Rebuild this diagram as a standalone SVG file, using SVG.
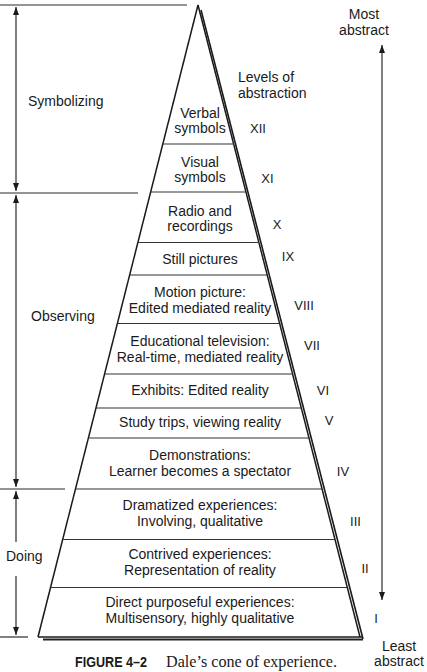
<svg xmlns="http://www.w3.org/2000/svg" width="427" height="672" viewBox="0 0 427 672">
<style>
  .t{font-family:"Liberation Sans",Arial,sans-serif;font-size:14px;fill:#1a1a1a}
  .c{text-anchor:middle}
  .n{font-family:"Liberation Sans",Arial,sans-serif;font-size:13px;fill:#1a1a1a;text-anchor:middle}
  .edge{stroke:#1a1a1a;stroke-width:1.5;fill:none}
  .div{stroke:#333;stroke-width:1.2}
  .bl{stroke:#2a2a2a;stroke-width:1.2}
  .ar{stroke:#2a2a2a;stroke-width:1.2;fill:none}
</style>
<defs>
  <marker id="ah" viewBox="0 0 8 6" refX="8" refY="3" markerWidth="8" markerHeight="6" markerUnits="userSpaceOnUse" orient="auto-start-reverse">
    <path d="M0,0 L8,3 L0,6 z" fill="#1a1a1a"/>
  </marker>
</defs>
<rect width="427" height="672" fill="#fff"/>

<g id="cone">
  <line class="edge" x1="198" y1="5" x2="38" y2="637"/>
  <line class="edge" x1="198" y1="5" x2="360" y2="637"/>
  <line x1="201" y1="10" x2="363" y2="639" stroke="#1a1a1a" stroke-width="1.6"/>
  <line class="edge" x1="38" y1="637" x2="362" y2="637"/>
  <line x1="43" y1="639.5" x2="363" y2="639.5" stroke="#222" stroke-width="1.8"/>
</g>

<g id="dividers">
  <line class="div" x1="162.8" y1="144" x2="233.6" y2="144"/>
  <line class="div" x1="150.7" y1="192" x2="245.9" y2="192"/>
  <line class="div" x1="137.9" y1="242.5" x2="258.9" y2="242.5"/>
  <line class="div" x1="129.6" y1="275" x2="267.2" y2="275"/>
  <line class="div" x1="117.4" y1="323.5" x2="279.6" y2="323.5"/>
  <line class="div" x1="104.6" y1="374" x2="292.6" y2="374"/>
  <line class="div" x1="96" y1="408" x2="301.3" y2="408"/>
  <line class="div" x1="88.4" y1="438" x2="309" y2="438"/>
  <line class="div" x1="75.5" y1="489" x2="322.1" y2="489"/>
  <line class="div" x1="62.7" y1="539.5" x2="335" y2="539.5"/>
  <line class="div" x1="50.5" y1="587.5" x2="347.3" y2="587.5"/>
</g>

<g id="level12"><text class="t c" x="200" y="117.5">Verbal</text><text class="t c" x="200" y="133">symbols</text><text class="n" x="258" y="133">XII</text></g>
<g id="level11"><text class="t c" x="200" y="166.5">Visual</text><text class="t c" x="200" y="182">symbols</text><text class="n" x="267.5" y="183">XI</text></g>
<g id="level10"><text class="t c" x="200" y="215.5">Radio and</text><text class="t c" x="200" y="231">recordings</text><text class="n" x="277" y="229">X</text></g>
<g id="level9"><text class="t c" x="200" y="264">Still pictures</text><text class="n" x="288" y="261">IX</text></g>
<g id="level8"><text class="t c" x="200" y="296.5">Motion picture:</text><text class="t c" x="200" y="312.5">Edited mediated reality</text><text class="n" x="304" y="310">VIII</text></g>
<g id="level7"><text class="t c" x="200" y="346">Educational television:</text><text class="t c" x="200" y="362">Real-time, mediated reality</text><text class="n" x="312" y="350">VII</text></g>
<g id="level6"><text class="t c" x="200" y="394.5">Exhibits: Edited reality</text><text class="n" x="323" y="394.5">VI</text></g>
<g id="level5"><text class="t c" x="200" y="426.5">Study trips, viewing reality</text><text class="n" x="329" y="425">V</text></g>
<g id="level4"><text class="t c" x="200" y="459.5">Demonstrations:</text><text class="t c" x="200" y="475.5">Learner becomes a spectator</text><text class="n" x="343" y="475.5">IV</text></g>
<g id="level3"><text class="t c" x="200" y="510">Dramatized experiences:</text><text class="t c" x="200" y="526">Involving, qualitative</text><text class="n" x="355.5" y="525.5">III</text></g>
<g id="level2"><text class="t c" x="200" y="558.5">Contrived experiences:</text><text class="t c" x="200" y="574.5">Representation of reality</text><text class="n" x="365" y="572.5">II</text></g>
<g id="level1"><text class="t c" x="200" y="607">Direct purposeful experiences:</text><text class="t c" x="200" y="623">Multisensory, highly qualitative</text><text class="n" x="376" y="622.5">I</text></g>

<g id="levels-label"><text class="t" x="238" y="82">Levels of</text><text class="t" x="238" y="98">abstraction</text></g>

<g id="bracket-lines">
  <line class="bl" x1="0" y1="5" x2="187" y2="5"/>
  <line class="bl" x1="0" y1="193" x2="138" y2="193"/>
  <line class="bl" x1="0" y1="489" x2="65" y2="489"/>
  <line class="bl" x1="0" y1="637" x2="28" y2="637"/>
</g>

<g id="symbolizing"><text class="t" x="28" y="106">Symbolizing</text></g>
<g id="observing"><text class="t" x="31" y="320.5">Observing</text></g>
<g id="doing"><text class="t" x="6" y="560.5">Doing</text></g>

<g id="abstraction-ends">
  <text class="t c" x="364" y="19">Most</text><text class="t c" x="364" y="35">abstract</text>
  <text class="t c" x="399" y="650.5">Least</text><text class="t c" x="399" y="666">abstract</text>
</g>

<g id="connectors">
  <line class="ar" x1="16" y1="7" x2="16" y2="191" marker-start="url(#ah)" marker-end="url(#ah)"/>
  <line class="ar" x1="16" y1="195" x2="16" y2="487" marker-start="url(#ah)" marker-end="url(#ah)"/>
  <line class="ar" x1="16" y1="491" x2="16" y2="542" marker-start="url(#ah)"/>
  <line class="ar" x1="16" y1="576" x2="16" y2="635" marker-end="url(#ah)"/>
  <line class="ar" x1="382" y1="45" x2="382" y2="600" marker-start="url(#ah)" marker-end="url(#ah)"/>
</g>

<g id="caption">
  <text x="75" y="667" font-family="'Liberation Sans',Arial,sans-serif" font-weight="bold" font-size="14" fill="#1a1a1a" textLength="72" lengthAdjust="spacingAndGlyphs">FIGURE 4–2</text>
  <text x="166" y="667" font-family="'Liberation Serif','Times New Roman',serif" font-size="16" fill="#1a1a1a" textLength="171" lengthAdjust="spacingAndGlyphs">Dale’s cone of experience.</text>
</g>
</svg>
